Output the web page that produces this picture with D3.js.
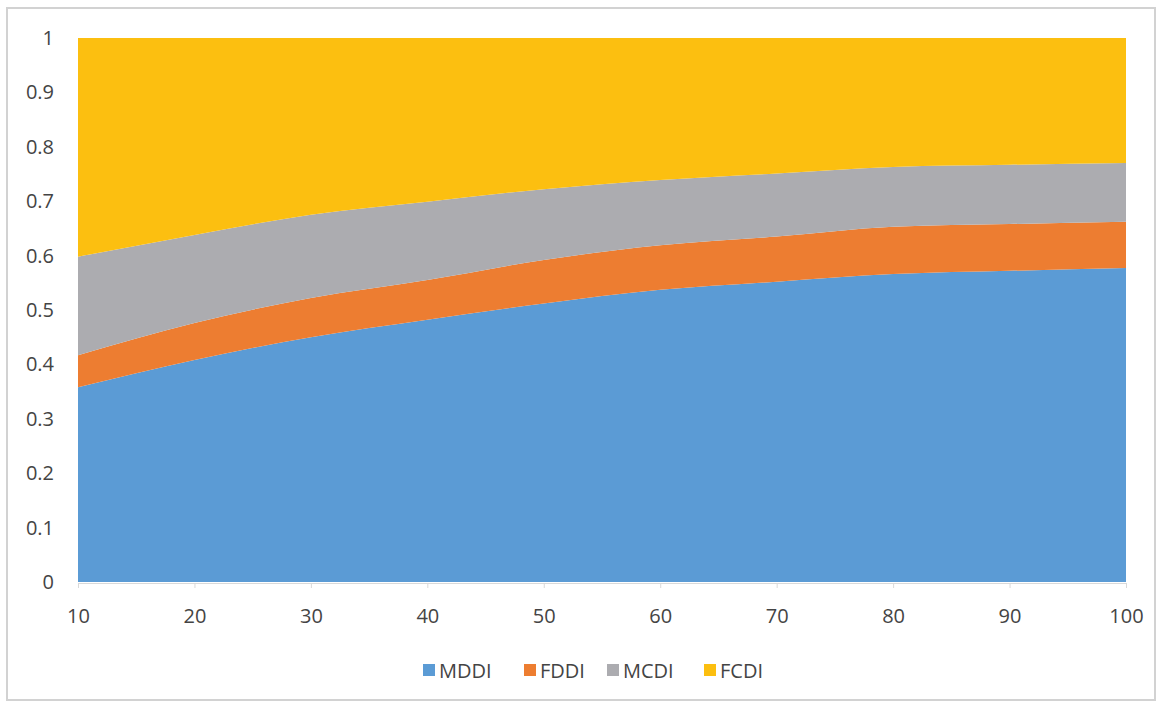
<!DOCTYPE html>
<html>
<head>
<meta charset="utf-8">
<script src="https://cdn.jsdelivr.net/npm/d3@7"></script>
<style>
  html, body { margin: 0; padding: 0; background: #fff; }
  svg { display: block; }
  text { font-family: "Open Sans", "Liberation Sans", sans-serif; fill: #444; }
</style>
</head>
<body>
<svg id="chart" width="1161" height="706"></svg>
<script>
// Sample sizes along the x axis
const xValues = [10, 20, 30, 40, 50, 60, 70, 80, 90, 100];

// Share of each index at each sample size (stack sums to 1)
const mddi = [0.358, 0.408, 0.450, 0.482, 0.512, 0.537, 0.552, 0.566, 0.572, 0.577];
const fddi = [0.059, 0.068, 0.072, 0.073, 0.080, 0.082, 0.083, 0.087, 0.086, 0.085];
const mcdi = [0.181, 0.162, 0.153, 0.144, 0.130, 0.120, 0.116, 0.110, 0.109, 0.108];
const fcdi = [0.402, 0.362, 0.325, 0.301, 0.278, 0.261, 0.249, 0.237, 0.233, 0.230];

const seriesNames = ["MDDI", "FDDI", "MCDI", "FCDI"];
const seriesColors = ["#5b9bd5", "#ed7d31", "#acacb0", "#fcbf10"];

const yTicks = [0, 0.1, 0.2, 0.3, 0.4, 0.5, 0.6, 0.7, 0.8, 0.9, 1];
const xTicks = [10, 20, 30, 40, 50, 60, 70, 80, 90, 100];

const rows = xValues.map((x, i) => ({
  x, MDDI: mddi[i], FDDI: fddi[i], MCDI: mcdi[i], FCDI: fcdi[i]
}));

const svg = d3.select("#chart");
const plot = { left: 78, right: 1126, top: 38, bottom: 582 };

// Outer chart frame
svg.append("rect")
  .attr("x", 7).attr("y", 8)
  .attr("width", 1148).attr("height", 692)
  .attr("fill", "#fff")
  .attr("stroke", "#d2d2d2")
  .attr("stroke-width", 2);

const x = d3.scaleLinear().domain([10, 100]).range([plot.left, plot.right]);
const y = d3.scaleLinear().domain([0, 1]).range([plot.bottom, plot.top]);

const layers = d3.stack().keys(seriesNames)(rows);

const area = d3.area()
  .x(d => x(d.data.x))
  .y0(d => y(d[0]))
  .y1(d => y(d[1]))
  .curve(d3.curveMonotoneX);

svg.append("g")
  .selectAll("path")
  .data(layers)
  .join("path")
  .attr("d", area)
  .attr("fill", (d, i) => seriesColors[i]);

// X axis
const xAxis = svg.append("g")
  .attr("transform", `translate(0,${plot.bottom + 1})`)
  .call(d3.axisBottom(x).tickValues(xTicks).tickSize(5).tickSizeOuter(0).tickPadding(21));
xAxis.select(".domain").attr("stroke", "#d9d9d9");
xAxis.selectAll(".tick line").attr("stroke", "#d9d9d9");
xAxis.selectAll("text")
  .style("font-size", "20px")
  .attr("fill", "#444");

// Y axis labels only
const yAxis = svg.append("g")
  .attr("transform", `translate(${plot.left},0)`)
  .call(d3.axisLeft(y).tickValues(yTicks).tickSize(0).tickPadding(24)
    .tickFormat(d => d3.format("~g")(d)));
yAxis.select(".domain").remove();
yAxis.selectAll("text")
  .style("font-size", "20px")
  .attr("fill", "#444");

// Legend
const legendItems = [
  { name: "MDDI", x: 423 },
  { name: "FDDI", x: 524 },
  { name: "MCDI", x: 607 },
  { name: "FCDI", x: 704 }
];
const legend = svg.append("g");
legendItems.forEach((it, i) => {
  legend.append("rect")
    .attr("x", it.x).attr("y", 664)
    .attr("width", 12).attr("height", 12)
    .attr("fill", seriesColors[i]);
  legend.append("text")
    .attr("x", it.x + 16).attr("y", 671)
    .attr("dy", "0.35em")
    .style("font-size", "20px")
    .text(it.name);
});
</script>
</body>
</html>
